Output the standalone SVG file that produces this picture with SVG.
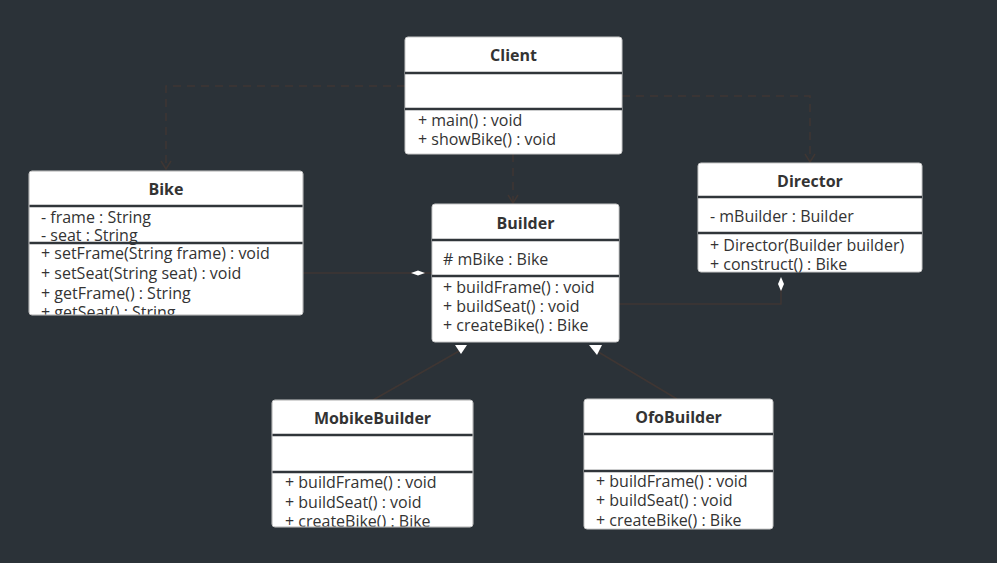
<svg xmlns="http://www.w3.org/2000/svg" width="997" height="563" viewBox="0 0 997 563">
<defs>
<style>
.box{fill:#ffffff;stroke:#c8c8c8;stroke-width:1}
.div{stroke:#30353a;stroke-width:2.5}
.t{font-family:"Open Sans","Liberation Sans",sans-serif;font-size:16px;fill:#333333}
.h{font-family:"Open Sans","Liberation Sans",sans-serif;font-size:16px;font-weight:bold;fill:#333333;text-anchor:middle}
.ln{fill:none;stroke:#3f3633;stroke-width:1.5}
.dash{fill:none;stroke:#3f3633;stroke-width:1.5;stroke-dasharray:8 6}
.arr{fill:none;stroke:#3f3633;stroke-width:1.5}
.wh{fill:#ffffff;stroke:none}
</style>
<clipPath id="cBike"><rect x="29" y="171" width="274" height="144" rx="3"/></clipPath>
<clipPath id="cMob"><rect x="272" y="400" width="201" height="127" rx="3"/></clipPath>
</defs>
<rect x="0" y="0" width="997" height="563" fill="#2b3238"/>

<g id="connectors">
<path class="dash" d="M405 86 H166 V168"/>
<path class="arr" d="M161 161 L166 169 L171 161"/>
<path class="dash" d="M622 96 H810 V161"/>
<path class="arr" d="M805 154 L810 162 L815 154"/>
<path class="dash" d="M513 154 V202"/>
<path class="arr" d="M508 195 L513 203 L518 195"/>
<path class="ln" d="M303 273 H432"/>
<path class="wh" d="M411 273 L418 270.5 L425 273 L418 275.5 Z"/>
<path class="ln" d="M781 290 V304 H619"/>
<path class="wh" d="M781 277 L784 284 L781 291 L778 284 Z"/>
<path class="ln" d="M373 400 L461 350"/>
<path class="wh" d="M455 345 L467 345 L461 354 Z"/>
<path class="ln" d="M677 399 L595 350"/>
<path class="wh" d="M589 345 L602 345 L597 355 Z"/>
</g>

<g id="Client">
<rect class="box" x="405" y="37" width="217" height="117" rx="3"/>
<line class="div" x1="405" y1="73" x2="622" y2="73"/>
<line class="div" x1="405" y1="109" x2="622" y2="109"/>
<text class="h" x="513.5" y="61">Client</text>
<text class="t" x="418" y="126">+ main() : void</text>
<text class="t" x="418" y="145">+ showBike() : void</text>
</g>

<g id="Bike">
<g clip-path="url(#cBike)">
<rect class="box" x="29" y="171" width="274" height="144" rx="3"/>
<text class="h" x="166" y="195">Bike</text>
<text class="t" x="41" y="223">- frame : String</text>
<text class="t" x="41" y="241">- seat : String</text>
<text class="t" x="41" y="259">+ setFrame(String frame) : void</text>
<text class="t" x="41" y="279">+ setSeat(String seat) : void</text>
<text class="t" x="41" y="299">+ getFrame() : String</text>
<text class="t" x="41" y="318">+ getSeat() : String</text>
</g>
<line class="div" x1="29" y1="206" x2="303" y2="206"/>
<line class="div" x1="29" y1="243" x2="303" y2="243"/>
<rect x="29" y="171" width="274" height="144" rx="3" fill="none" stroke="#c8c8c8"/>
</g>

<g id="Builder">
<rect class="box" x="432" y="204" width="187" height="138" rx="3"/>
<line class="div" x1="432" y1="240" x2="619" y2="240"/>
<line class="div" x1="432" y1="276" x2="619" y2="276"/>
<text class="h" x="525.5" y="229">Builder</text>
<text class="t" x="443" y="265"># mBike : Bike</text>
<text class="t" x="443" y="293">+ buildFrame() : void</text>
<text class="t" x="443" y="312">+ buildSeat() : void</text>
<text class="t" x="443" y="331">+ createBike() : Bike</text>
</g>

<g id="Director">
<rect class="box" x="698" y="163" width="224" height="109" rx="3"/>
<line class="div" x1="698" y1="197" x2="922" y2="197"/>
<line class="div" x1="698" y1="233" x2="922" y2="233"/>
<text class="h" x="810" y="187">Director</text>
<text class="t" x="710" y="222">- mBuilder : Builder</text>
<text class="t" x="710" y="251">+ Director(Builder builder)</text>
<text class="t" x="710" y="270">+ construct() : Bike</text>
</g>

<g id="MobikeBuilder">
<g clip-path="url(#cMob)">
<rect class="box" x="272" y="400" width="201" height="127" rx="3"/>
<text class="h" x="372.5" y="424">MobikeBuilder</text>
<text class="t" x="285" y="488">+ buildFrame() : void</text>
<text class="t" x="285" y="508">+ buildSeat() : void</text>
<text class="t" x="285" y="527">+ createBike() : Bike</text>
</g>
<line class="div" x1="272" y1="435" x2="473" y2="435"/>
<line class="div" x1="272" y1="472" x2="473" y2="472"/>
<rect x="272" y="400" width="201" height="127" rx="3" fill="none" stroke="#c8c8c8"/>
</g>

<g id="OfoBuilder">
<rect class="box" x="584" y="399" width="189" height="130" rx="3"/>
<line class="div" x1="584" y1="434" x2="773" y2="434"/>
<line class="div" x1="584" y1="471" x2="773" y2="471"/>
<text class="h" x="678.5" y="423">OfoBuilder</text>
<text class="t" x="596" y="487">+ buildFrame() : void</text>
<text class="t" x="596" y="506">+ buildSeat() : void</text>
<text class="t" x="596" y="526">+ createBike() : Bike</text>
</g>
</svg>
